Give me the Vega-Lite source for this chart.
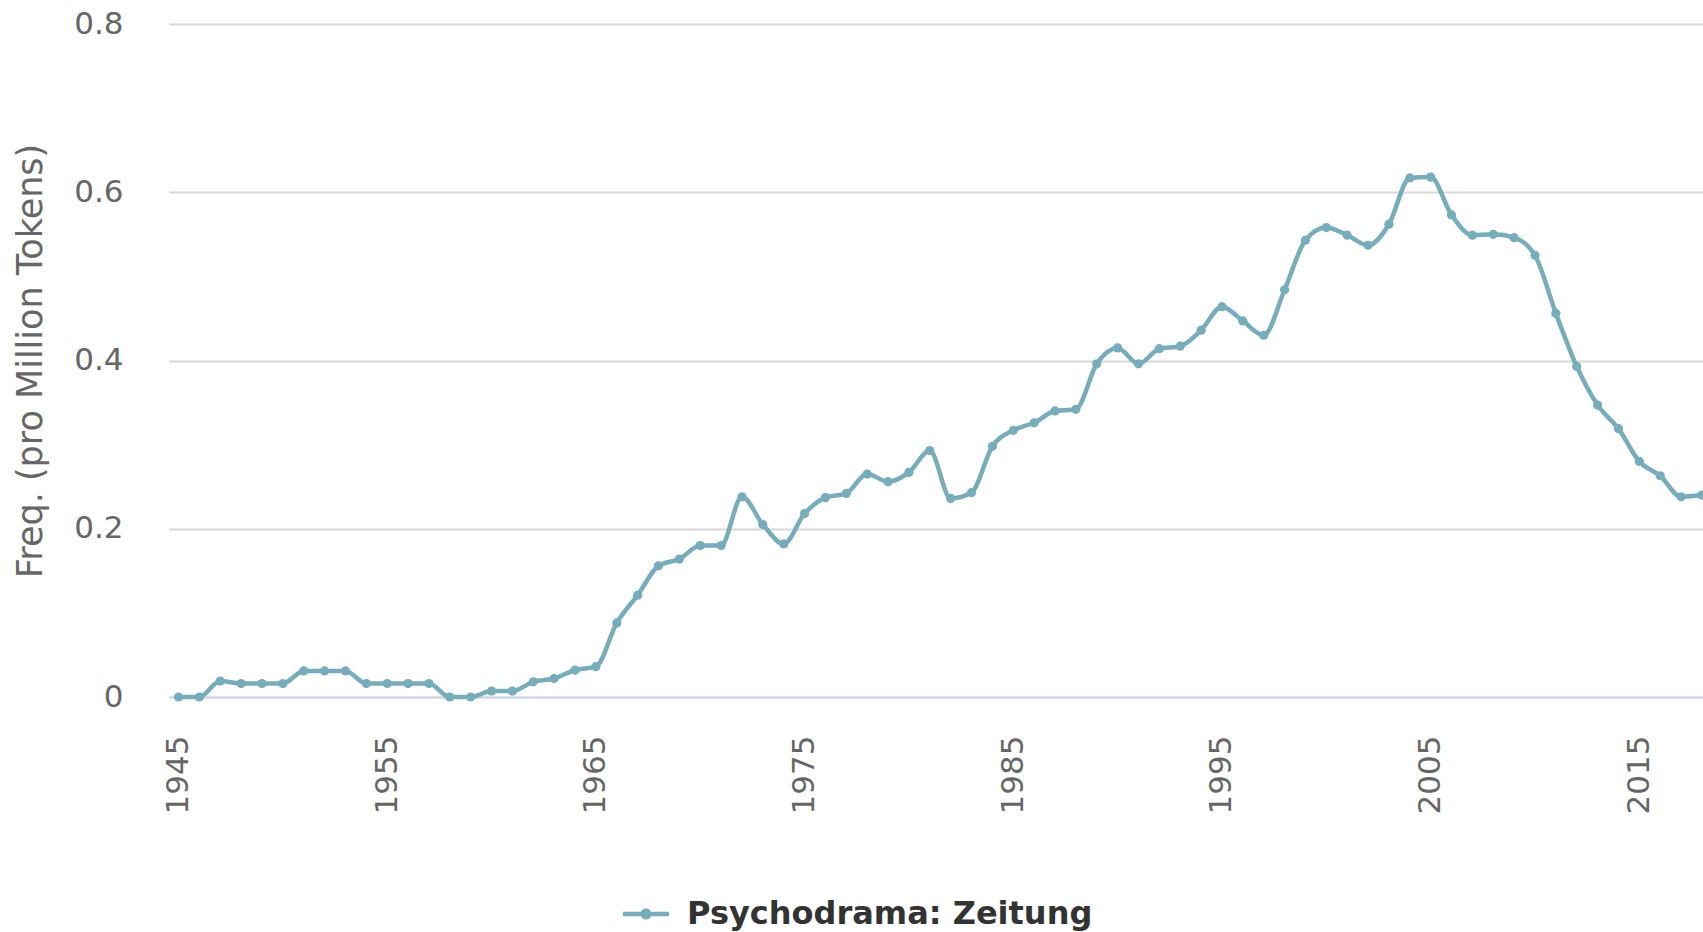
{
  "$schema": "https://vega.github.io/schema/vega-lite/v6.json",
  "autosize": {"type": "none"},
  "padding": {"left": 169, "top": 24, "right": 0, "bottom": 235},
  "width": 1534,
  "height": 673,
  "background": "white",
  "config": {
    "view": {"stroke": null},
    "font": "DejaVu Sans"
  },
  "data": {
    "values": [
      {"year": 1945, "freq": 0, "series": "Psychodrama: Zeitung"},
      {"year": 1946, "freq": 0, "series": "Psychodrama: Zeitung"},
      {"year": 1947, "freq": 0.019, "series": "Psychodrama: Zeitung"},
      {"year": 1948, "freq": 0.016, "series": "Psychodrama: Zeitung"},
      {"year": 1949, "freq": 0.016, "series": "Psychodrama: Zeitung"},
      {"year": 1950, "freq": 0.016, "series": "Psychodrama: Zeitung"},
      {"year": 1951, "freq": 0.031, "series": "Psychodrama: Zeitung"},
      {"year": 1952, "freq": 0.031, "series": "Psychodrama: Zeitung"},
      {"year": 1953, "freq": 0.031, "series": "Psychodrama: Zeitung"},
      {"year": 1954, "freq": 0.016, "series": "Psychodrama: Zeitung"},
      {"year": 1955, "freq": 0.016, "series": "Psychodrama: Zeitung"},
      {"year": 1956, "freq": 0.016, "series": "Psychodrama: Zeitung"},
      {"year": 1957, "freq": 0.016, "series": "Psychodrama: Zeitung"},
      {"year": 1958, "freq": 0, "series": "Psychodrama: Zeitung"},
      {"year": 1959, "freq": 0, "series": "Psychodrama: Zeitung"},
      {"year": 1960, "freq": 0.007, "series": "Psychodrama: Zeitung"},
      {"year": 1961, "freq": 0.007, "series": "Psychodrama: Zeitung"},
      {"year": 1962, "freq": 0.018, "series": "Psychodrama: Zeitung"},
      {"year": 1963, "freq": 0.022, "series": "Psychodrama: Zeitung"},
      {"year": 1964, "freq": 0.032, "series": "Psychodrama: Zeitung"},
      {"year": 1965, "freq": 0.036, "series": "Psychodrama: Zeitung"},
      {"year": 1966, "freq": 0.088, "series": "Psychodrama: Zeitung"},
      {"year": 1967, "freq": 0.121, "series": "Psychodrama: Zeitung"},
      {"year": 1968, "freq": 0.156, "series": "Psychodrama: Zeitung"},
      {"year": 1969, "freq": 0.164, "series": "Psychodrama: Zeitung"},
      {"year": 1970, "freq": 0.18, "series": "Psychodrama: Zeitung"},
      {"year": 1971, "freq": 0.18, "series": "Psychodrama: Zeitung"},
      {"year": 1972, "freq": 0.238, "series": "Psychodrama: Zeitung"},
      {"year": 1973, "freq": 0.205, "series": "Psychodrama: Zeitung"},
      {"year": 1974, "freq": 0.182, "series": "Psychodrama: Zeitung"},
      {"year": 1975, "freq": 0.218, "series": "Psychodrama: Zeitung"},
      {"year": 1976, "freq": 0.237, "series": "Psychodrama: Zeitung"},
      {"year": 1977, "freq": 0.242, "series": "Psychodrama: Zeitung"},
      {"year": 1978, "freq": 0.265, "series": "Psychodrama: Zeitung"},
      {"year": 1979, "freq": 0.256, "series": "Psychodrama: Zeitung"},
      {"year": 1980, "freq": 0.267, "series": "Psychodrama: Zeitung"},
      {"year": 1981, "freq": 0.293, "series": "Psychodrama: Zeitung"},
      {"year": 1982, "freq": 0.236, "series": "Psychodrama: Zeitung"},
      {"year": 1983, "freq": 0.243, "series": "Psychodrama: Zeitung"},
      {"year": 1984, "freq": 0.298, "series": "Psychodrama: Zeitung"},
      {"year": 1985, "freq": 0.317, "series": "Psychodrama: Zeitung"},
      {"year": 1986, "freq": 0.326, "series": "Psychodrama: Zeitung"},
      {"year": 1987, "freq": 0.34, "series": "Psychodrama: Zeitung"},
      {"year": 1988, "freq": 0.342, "series": "Psychodrama: Zeitung"},
      {"year": 1989, "freq": 0.396, "series": "Psychodrama: Zeitung"},
      {"year": 1990, "freq": 0.415, "series": "Psychodrama: Zeitung"},
      {"year": 1991, "freq": 0.396, "series": "Psychodrama: Zeitung"},
      {"year": 1992, "freq": 0.414, "series": "Psychodrama: Zeitung"},
      {"year": 1993, "freq": 0.417, "series": "Psychodrama: Zeitung"},
      {"year": 1994, "freq": 0.436, "series": "Psychodrama: Zeitung"},
      {"year": 1995, "freq": 0.464, "series": "Psychodrama: Zeitung"},
      {"year": 1996, "freq": 0.447, "series": "Psychodrama: Zeitung"},
      {"year": 1997, "freq": 0.43, "series": "Psychodrama: Zeitung"},
      {"year": 1998, "freq": 0.484, "series": "Psychodrama: Zeitung"},
      {"year": 1999, "freq": 0.543, "series": "Psychodrama: Zeitung"},
      {"year": 2000, "freq": 0.558, "series": "Psychodrama: Zeitung"},
      {"year": 2001, "freq": 0.549, "series": "Psychodrama: Zeitung"},
      {"year": 2002, "freq": 0.537, "series": "Psychodrama: Zeitung"},
      {"year": 2003, "freq": 0.562, "series": "Psychodrama: Zeitung"},
      {"year": 2004, "freq": 0.617, "series": "Psychodrama: Zeitung"},
      {"year": 2005, "freq": 0.618, "series": "Psychodrama: Zeitung"},
      {"year": 2006, "freq": 0.573, "series": "Psychodrama: Zeitung"},
      {"year": 2007, "freq": 0.549, "series": "Psychodrama: Zeitung"},
      {"year": 2008, "freq": 0.55, "series": "Psychodrama: Zeitung"},
      {"year": 2009, "freq": 0.546, "series": "Psychodrama: Zeitung"},
      {"year": 2010, "freq": 0.525, "series": "Psychodrama: Zeitung"},
      {"year": 2011, "freq": 0.456, "series": "Psychodrama: Zeitung"},
      {"year": 2012, "freq": 0.393, "series": "Psychodrama: Zeitung"},
      {"year": 2013, "freq": 0.347, "series": "Psychodrama: Zeitung"},
      {"year": 2014, "freq": 0.319, "series": "Psychodrama: Zeitung"},
      {"year": 2015, "freq": 0.28, "series": "Psychodrama: Zeitung"},
      {"year": 2016, "freq": 0.263, "series": "Psychodrama: Zeitung"},
      {"year": 2017, "freq": 0.238, "series": "Psychodrama: Zeitung"},
      {"year": 2018, "freq": 0.24, "series": "Psychodrama: Zeitung"}
    ]
  },
  "encoding": {
    "x": {
      "field": "year",
      "type": "quantitative",
      "scale": {"domain": [1944.545, 2018.05], "nice": false, "zero": false},
      "axis": {
        "title": null,
        "values": [1945, 1955, 1965, 1975, 1985, 1995, 2005, 2015],
        "format": "d",
        "labelAngle": 270,
        "labelFont": "DejaVu Sans",
        "labelFontSize": 31,
        "labelColor": "#666666",
        "labelPadding": 38,
        "ticks": false,
        "tickSize": 0,
        "grid": false,
        "domainColor": "#ccd6eb",
        "domainWidth": 2,
        "labelFlush": false,
        "labelOverlap": false
      }
    },
    "y": {
      "field": "freq",
      "type": "quantitative",
      "scale": {"domain": [0, 0.8], "nice": false},
      "axis": {
        "title": "Freq. (pro Million Tokens)",
        "values": [0, 0.2, 0.4, 0.6, 0.8],
        "format": "~g",
        "labelFont": "DejaVu Sans",
        "labelFontSize": 31,
        "labelColor": "#666666",
        "labelPadding": 46,
        "ticks": false,
        "tickSize": 0,
        "domain": false,
        "grid": true,
        "gridColor": "#d8d8d8",
        "gridWidth": 2,
        "labelFlush": false,
        "labelOverlap": false,
        "titleFont": "DejaVu Sans",
        "titleFontSize": 35,
        "titleFontWeight": "normal",
        "titleColor": "#666666",
        "titleAngle": 270,
        "titleX": -128,
        "titleY": 336.5,
        "titleAlign": "center",
        "titleBaseline": "alphabetic"
      }
    },
    "color": {
      "field": "series",
      "type": "nominal",
      "scale": {"range": ["#77adba"]},
      "legend": {
        "title": null,
        "orient": "none",
        "legendX": 454,
        "legendY": 867,
        "padding": 0,
        "symbolType": "M-1,-0.1L1,-0.1L1,0.1L-1,0.1Z M0.24,0A0.24,0.24 0 1,1 -0.24,0A0.24,0.24 0 1,1 0.24,0Z",
        "symbolSize": 2116,
        "symbolStrokeWidth": 0,
        "labelFont": "DejaVu Sans",
        "labelFontWeight": "bold",
        "labelFontSize": 32,
        "labelColor": "#333333",
        "labelOffset": 18,
        "labelLimit": 0,
        "encode": {
          "symbols": {"update": {"fill": {"value": "#77adba"}, "stroke": {"value": "transparent"}, "strokeWidth": {"value": 0}, "opacity": {"value": 1}}}
        }
      }
    }
  },
  "layer": [
    {"mark": {"type": "line", "interpolate": "monotone", "strokeWidth": 4.5, "strokeCap": "round", "strokeJoin": "round"}},
    {"mark": {"type": "circle", "size": 85, "opacity": 1}}
  ]
}
